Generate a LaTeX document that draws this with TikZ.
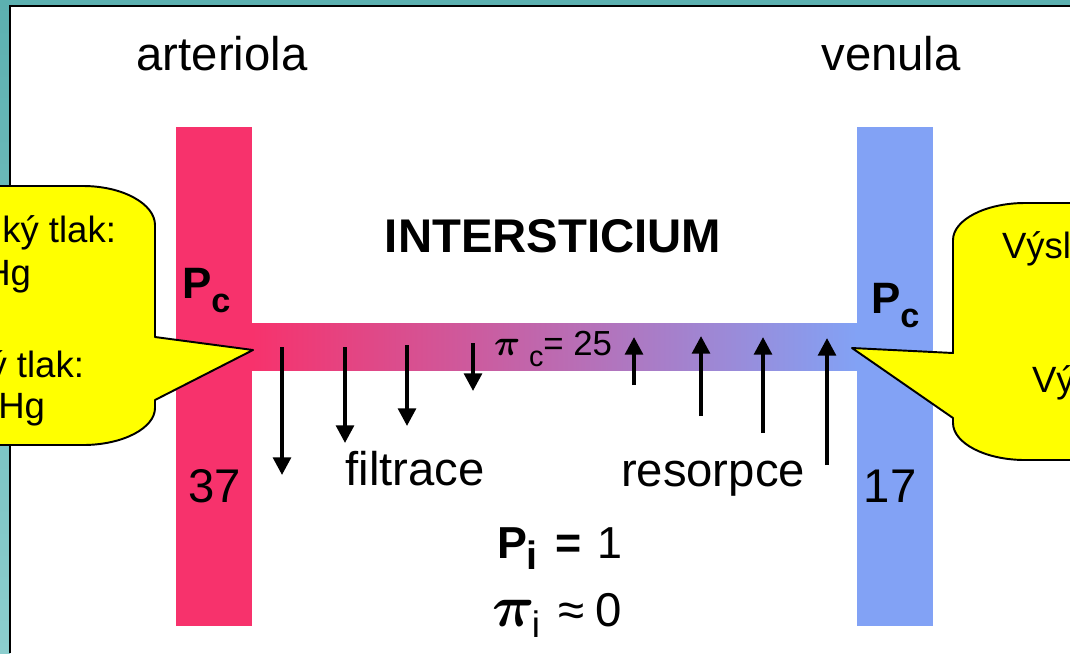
\documentclass[tikz,border=0pt]{standalone}
\usepackage{fontspec}
\setmainfont{Liberation Sans}
\usepackage{graphicx}
\usepackage{xcolor}
\usepackage{tikz}
\usetikzlibrary{arrows.meta}
\definecolor{CervenaArteriola}{RGB}{247,50,108}
\definecolor{ModraVenula}{RGB}{130,162,245}
\definecolor{ZlutaBublina}{RGB}{255,255,0}
\definecolor{TyrkysHorni}{RGB}{92,176,176}
\definecolor{TyrkysDolni}{RGB}{140,206,206}
\newcommand{\velkePismo}{\fontsize{26.9}{32}\selectfont}
\newcommand{\bublinaPismo}{\fontsize{20.8}{25}\selectfont}
\newcommand{\indexPismo}[1]{\fontsize{#1}{#1}\selectfont}

\begin{document}
\begin{tikzpicture}[x=0.02cm,y=-0.02cm,>=Latex,
  every node/.style={inner sep=0pt,outer sep=0pt},
  popis/.style={anchor=base,font=\velkePismo},
  tok/.style={-{Triangle[length=10pt,width=10pt]},line width=2.2pt},
  bublina/.style={draw=black,line width=1.1pt,fill=ZlutaBublina,line join=round}]
  \useasboundingbox (0,0) rectangle (1070,653);
  \fill[white] (0,0) rectangle (1070,653);
  % ram
  \shade[top color=TyrkysHorni,bottom color=TyrkysDolni] (0,0) rectangle (10,653);
  \fill[TyrkysHorni] (0,0) rectangle (1070,6);
  \draw[line width=1.2pt] (10,653) -- (10,6) -- (1070,6);
  % cevy
  \fill[CervenaArteriola] (176,127) rectangle (252,626);
  \fill[ModraVenula] (857,127) rectangle (933,626);
  \shade[left color=CervenaArteriola,right color=ModraVenula] (252,323) rectangle (857,370);
  % bubliny
  \draw[bublina] (-60,186) -- (83,186) .. controls (123,186) and (155,204) .. (155,225)
    -- (155,337) -- (253,350) -- (155,400) -- (155,408)
    .. controls (155,428) and (123,445) .. (83,445) -- (-60,445) -- cycle;
  \draw[bublina] (1130,203) -- (1025,203) .. controls (985,203) and (953,220) .. (953,240)
    -- (953,353) -- (852,348) -- (953,418) -- (953,423)
    .. controls (953,443) and (985,460) .. (1025,460) -- (1130,460) -- cycle;
  \node[anchor=base east,font=\bublinaPismo] (tlakA) at (116,242) {ký tlak:};
  \node[anchor=base east,font=\bublinaPismo] (hgA) at (31,285) {Hg};
  \node[anchor=base east,font=\bublinaPismo] (tlakB) at (84,377) {ý tlak:};
  \node[anchor=base east,font=\bublinaPismo] (hgB) at (45,418) {Hg};
  \node[anchor=base west,font=\bublinaPismo] (vyslA) at (1002,258) {Výsl};
  \node[anchor=base west,font=\bublinaPismo] (vyslB) at (1032,392) {Vý};
  % popisky
  \node[popis] (arteriola) at (222,70) {arteriola};
  \node[popis] (venula) at (891,70) {venula};
  \node[popis,font=\velkePismo\bfseries] (intersticium) at (553,252) {INTERSTICIUM};
  \node[anchor=base west,font=\fontsize{25}{30}\selectfont\bfseries] (pcA) at (182,298)
    {P\raisebox{-8pt}{\indexPismo{19.5}c}};
  \node[anchor=base west,font=\fontsize{25}{30}\selectfont\bfseries] (pcV) at (871,313)
    {P\raisebox{-8pt}{\indexPismo{19.5}c}};
  \node[popis] (tlakArt) at (215,502) {37};
  \node[popis] (tlakVen) at (890,502) {17};
  \node[popis] (filtrace) at (415,485) {filtrace};
  \node[popis] (resorpce) at (713,486) {resorpce};
  \node[anchor=base west,font=\fontsize{19.8}{24}\selectfont] (onkotC) at (494,355)
    {{\boldmath$\pi$}\hspace{5pt}\raisebox{-6.8pt}{\indexPismo{16.4}c}= 25};
  \node[anchor=base west,font=\fontsize{25.5}{30}\selectfont] (tlakI) at (497,558)
    {\textbf{P}\raisebox{-6.8pt}{\indexPismo{22.5}\bfseries i}\hspace{10pt}\textbf{=}\hspace{9pt}1};
  \node[anchor=base west,font=\fontsize{24}{30}\selectfont] (onkotI) at (492,626)
    {\scalebox{1.35}{\boldmath$\pi$}\hspace{-1.5pt}\raisebox{-6.5pt}{\indexPismo{21}i}\hspace{10.5pt}{\fontsize{27}{30}\selectfont ≈\hspace{6pt}0}};
  % sipky filtrace
  \coordinate (f1a) at (282,347); \coordinate (f1b) at (282,475);
  \coordinate (f2a) at (345,347); \coordinate (f2b) at (345,443);
  \coordinate (f3a) at (407,345); \coordinate (f3b) at (407,426);
  \coordinate (f4a) at (473,343); \coordinate (f4b) at (473,391);
  \draw[tok] (f1a) -- (f1b);
  \draw[tok] (f2a) -- (f2b);
  \draw[tok] (f3a) -- (f3b);
  \draw[tok] (f4a) -- (f4b);
  % sipky resorpce
  \coordinate (r1a) at (634,385); \coordinate (r1b) at (634,337);
  \coordinate (r2a) at (701,416); \coordinate (r2b) at (701,336);
  \coordinate (r3a) at (763,433); \coordinate (r3b) at (763,337);
  \coordinate (r4a) at (827,465); \coordinate (r4b) at (827,338);
  \draw[tok] (r1a) -- (r1b);
  \draw[tok] (r2a) -- (r2b);
  \draw[tok] (r3a) -- (r3b);
  \draw[tok] (r4a) -- (r4b);
\end{tikzpicture}
\end{document}
